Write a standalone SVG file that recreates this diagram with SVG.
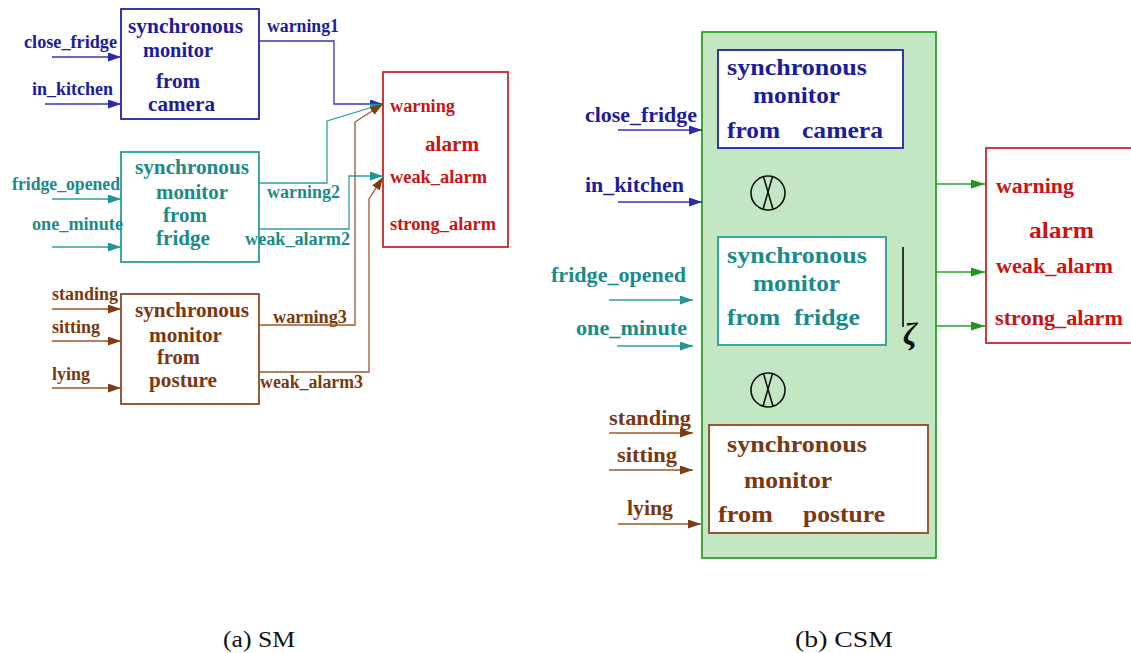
<svg xmlns="http://www.w3.org/2000/svg" width="1131" height="653" viewBox="0 0 1131 653">
  <style>
    text { font-family: "Liberation Serif", "Times New Roman", serif; font-weight: bold; }
    .cap { font-weight: normal; font-size: 23px; fill: #111; }
    .a-box { font-size: 21px; }
    .a-lbl { font-size: 18px; }
    .b-box { font-size: 24px; }
    .b-lbl { font-size: 21px; }
    .blue { fill: #1c1c9c; }
    .teal { fill: #1a8a8a; }
    .brown { fill: #7a3810; }
    .red { fill: #c81414; }
    .box { fill: #fff; stroke-width: 1.8; }
    .sb { stroke: #2323a6; }
    .st { stroke: #2a9c9c; }
    .sr { stroke: #8a4a22; }
    .sred { stroke: #d02424; }
    .wire { fill: none; stroke-width: 1.3; }
    .lb { stroke: #3434b4; }
    .lt { stroke: #2ea0a0; }
    .lr { stroke: #9a5a30; }
    .lg { stroke: #2c9e2c; }
    .xcirc { fill: none; stroke: #111; stroke-width: 1.6; }
  </style>
  <defs>
    <marker id="ah-blue" viewBox="0 0 13 9" refX="13" refY="4.5" markerWidth="13" markerHeight="9" orient="auto" markerUnits="userSpaceOnUse"><path d="M0,0 L13,4.5 L0,9 z" fill="#2a2aa8"/></marker>
    <marker id="ah-teal" viewBox="0 0 13 9" refX="13" refY="4.5" markerWidth="13" markerHeight="9" orient="auto" markerUnits="userSpaceOnUse"><path d="M0,0 L13,4.5 L0,9 z" fill="#229494"/></marker>
    <marker id="ah-brown" viewBox="0 0 13 9" refX="13" refY="4.5" markerWidth="13" markerHeight="9" orient="auto" markerUnits="userSpaceOnUse"><path d="M0,0 L13,4.5 L0,9 z" fill="#7e3c14"/></marker>
    <marker id="ah-green" viewBox="0 0 14 9" refX="14" refY="4.5" markerWidth="14" markerHeight="9" orient="auto" markerUnits="userSpaceOnUse"><path d="M0,0 L14,4.5 L0,9 z" fill="#1f961f"/></marker>
  </defs>

  <!-- ===== (a) SM ===== -->
  <g id="sm-camera">
    <rect class="box sb" x="121" y="9" width="138" height="110"/>
    <text class="a-box blue" x="128" y="33" textLength="115" lengthAdjust="spacingAndGlyphs">synchronous</text>
    <text class="a-box blue" x="143" y="57" textLength="70" lengthAdjust="spacingAndGlyphs">monitor</text>
    <text class="a-box blue" x="156" y="88" textLength="44" lengthAdjust="spacingAndGlyphs">from</text>
    <text class="a-box blue" x="148" y="111" textLength="67" lengthAdjust="spacingAndGlyphs">camera</text>
    <text class="a-lbl blue" x="24" y="48" textLength="93" lengthAdjust="spacingAndGlyphs">close_fridge</text>
    <text class="a-lbl blue" x="32" y="95" textLength="81" lengthAdjust="spacingAndGlyphs">in_kitchen</text>
    <text class="a-lbl blue" x="267" y="32" textLength="72" lengthAdjust="spacingAndGlyphs">warning1</text>
  </g>
  <g id="sm-fridge">
    <rect class="box st" x="121" y="152" width="138" height="110"/>
    <text class="a-box teal" x="135" y="174" textLength="114" lengthAdjust="spacingAndGlyphs">synchronous</text>
    <text class="a-box teal" x="156" y="199" textLength="72" lengthAdjust="spacingAndGlyphs">monitor</text>
    <text class="a-box teal" x="163" y="222" textLength="44" lengthAdjust="spacingAndGlyphs">from</text>
    <text class="a-box teal" x="156" y="245" textLength="54" lengthAdjust="spacingAndGlyphs">fridge</text>
    <text class="a-lbl teal" x="12" y="190" textLength="108" lengthAdjust="spacingAndGlyphs">fridge_opened</text>
    <text class="a-lbl teal" x="32" y="230" textLength="91" lengthAdjust="spacingAndGlyphs">one_minute</text>
    <text class="a-lbl teal" x="267" y="198" textLength="73" lengthAdjust="spacingAndGlyphs">warning2</text>
    <text class="a-lbl teal" x="245" y="245" textLength="105" lengthAdjust="spacingAndGlyphs">weak_alarm2</text>
  </g>
  <g id="sm-posture">
    <rect class="box sr" x="121" y="294" width="138" height="110"/>
    <text class="a-box brown" x="135" y="317" textLength="114" lengthAdjust="spacingAndGlyphs">synchronous</text>
    <text class="a-box brown" x="149" y="342" textLength="73" lengthAdjust="spacingAndGlyphs">monitor</text>
    <text class="a-box brown" x="157" y="364" textLength="43" lengthAdjust="spacingAndGlyphs">from</text>
    <text class="a-box brown" x="149" y="387" textLength="68" lengthAdjust="spacingAndGlyphs">posture</text>
    <text class="a-lbl brown" x="52" y="300" textLength="66" lengthAdjust="spacingAndGlyphs">standing</text>
    <text class="a-lbl brown" x="52" y="333" textLength="48" lengthAdjust="spacingAndGlyphs">sitting</text>
    <text class="a-lbl brown" x="52" y="380" textLength="38" lengthAdjust="spacingAndGlyphs">lying</text>
    <text class="a-lbl brown" x="273" y="323" textLength="74" lengthAdjust="spacingAndGlyphs">warning3</text>
    <text class="a-lbl brown" x="260" y="388" textLength="103" lengthAdjust="spacingAndGlyphs">weak_alarm3</text>
  </g>
  <g id="sm-alarm">
    <rect class="box sred" x="383" y="72" width="125" height="175"/>
    <text class="a-lbl red" x="390" y="112" textLength="65" lengthAdjust="spacingAndGlyphs">warning</text>
    <text class="a-box red" x="425" y="151" textLength="54" lengthAdjust="spacingAndGlyphs">alarm</text>
    <text class="a-lbl red" x="390" y="183" textLength="97" lengthAdjust="spacingAndGlyphs">weak_alarm</text>
    <text class="a-lbl red" x="390" y="230" textLength="106" lengthAdjust="spacingAndGlyphs">strong_alarm</text>
  </g>

  <!-- ===== (b) CSM ===== -->
  <g id="csm-composite">
    <rect x="702" y="32" width="234" height="526" fill="#c3e6c3" stroke="#2ca02c" stroke-width="1.8"/>
    <circle class="xcirc" cx="768" cy="193" r="17"/>
    <path class="xcirc" d="M763.5,176.6 L773,209.3 M772.5,176.6 L763,209.3"/>
    <circle class="xcirc" cx="768" cy="390" r="17"/>
    <path class="xcirc" d="M763.5,373.6 L773,406.3 M772.5,373.6 L763,406.3"/>
    <line x1="903" y1="247" x2="903" y2="327" stroke="#333" stroke-width="2"/>
    <text x="903" y="345" font-size="32" font-style="italic" font-weight="normal" fill="#111">ζ</text>
  </g>
  <g id="csm-camera">
    <rect class="box sb" x="718" y="50" width="185" height="98"/>
    <text class="b-box blue" x="727" y="75" textLength="140" lengthAdjust="spacingAndGlyphs">synchronous</text>
    <text class="b-box blue" x="753" y="103" textLength="87" lengthAdjust="spacingAndGlyphs">monitor</text>
    <text class="b-box blue" x="727" y="138" textLength="53" lengthAdjust="spacingAndGlyphs">from</text>
    <text class="b-box blue" x="802" y="138" textLength="81" lengthAdjust="spacingAndGlyphs">camera</text>
    <text class="b-lbl blue" x="585" y="122" textLength="112" lengthAdjust="spacingAndGlyphs">close_fridge</text>
    <text class="b-lbl blue" x="585" y="192" textLength="99" lengthAdjust="spacingAndGlyphs">in_kitchen</text>
  </g>
  <g id="csm-fridge">
    <rect class="box st" x="718" y="237" width="168" height="108"/>
    <text class="b-box teal" x="727" y="263" textLength="140" lengthAdjust="spacingAndGlyphs">synchronous</text>
    <text class="b-box teal" x="753" y="291" textLength="87" lengthAdjust="spacingAndGlyphs">monitor</text>
    <text class="b-box teal" x="727" y="325" textLength="53" lengthAdjust="spacingAndGlyphs">from</text>
    <text class="b-box teal" x="794" y="325" textLength="66" lengthAdjust="spacingAndGlyphs">fridge</text>
    <text class="b-lbl teal" x="551" y="282" textLength="135" lengthAdjust="spacingAndGlyphs">fridge_opened</text>
    <text class="b-lbl teal" x="576" y="335" textLength="111" lengthAdjust="spacingAndGlyphs">one_minute</text>
  </g>
  <g id="csm-posture">
    <rect class="box sr" x="709" y="425" width="219" height="108"/>
    <text class="b-box brown" x="727" y="452" textLength="140" lengthAdjust="spacingAndGlyphs">synchronous</text>
    <text class="b-box brown" x="744" y="488" textLength="88" lengthAdjust="spacingAndGlyphs">monitor</text>
    <text class="b-box brown" x="718" y="522" textLength="55" lengthAdjust="spacingAndGlyphs">from</text>
    <text class="b-box brown" x="803" y="522" textLength="82" lengthAdjust="spacingAndGlyphs">posture</text>
    <text class="b-lbl brown" x="609" y="425" textLength="82" lengthAdjust="spacingAndGlyphs">standing</text>
    <text class="b-lbl brown" x="617" y="462" textLength="60" lengthAdjust="spacingAndGlyphs">sitting</text>
    <text class="b-lbl brown" x="627" y="515" textLength="46" lengthAdjust="spacingAndGlyphs">lying</text>
  </g>
  <g id="csm-alarm">
    <rect class="box sred" x="986" y="148" width="152" height="195"/>
    <text class="b-lbl red" x="996" y="193" textLength="78" lengthAdjust="spacingAndGlyphs">warning</text>
    <text class="b-box red" x="1029" y="238" textLength="65" lengthAdjust="spacingAndGlyphs">alarm</text>
    <text class="b-lbl red" x="996" y="273" textLength="117" lengthAdjust="spacingAndGlyphs">weak_alarm</text>
    <text class="b-lbl red" x="995" y="325" textLength="128" lengthAdjust="spacingAndGlyphs">strong_alarm</text>
  </g>

  <!-- connectors -->
  <g id="connectors" class="wire">
    <!-- (a) inputs -->
    <path class="lb" d="M52,57 H121" marker-end="url(#ah-blue)"/>
    <path class="lb" d="M45,104 H121" marker-end="url(#ah-blue)"/>
    <path class="lt" d="M52,199 H121" marker-end="url(#ah-teal)"/>
    <path class="lt" d="M52,247 H121" marker-end="url(#ah-teal)"/>
    <path class="lr" d="M52,309 H121" marker-end="url(#ah-brown)"/>
    <path class="lr" d="M52,341 H121" marker-end="url(#ah-brown)"/>
    <path class="lr" d="M52,388 H121" marker-end="url(#ah-brown)"/>
    <!-- (a) outputs to alarm -->
    <path class="lb" d="M259,41 H334 V104 H383" marker-end="url(#ah-blue)"/>
    <path class="lt" d="M259,183 H327 V121 L383,104" marker-end="url(#ah-teal)"/>
    <path class="lt" d="M259,229 H349 V176 H383" marker-end="url(#ah-teal)"/>
    <path class="lr" d="M259,325 H355 V122 L383,104" marker-end="url(#ah-brown)"/>
    <path class="lr" d="M259,372 H369 V199 L383,177" marker-end="url(#ah-brown)"/>
    <!-- (b) inputs -->
    <path class="lb" d="M618,130 H702" marker-end="url(#ah-blue)"/>
    <path class="lb" d="M618,202 H702" marker-end="url(#ah-blue)"/>
    <path class="lt" d="M609,300 H693" marker-end="url(#ah-teal)"/>
    <path class="lt" d="M617,346 H693" marker-end="url(#ah-teal)"/>
    <path class="lr" d="M609,433 H693" marker-end="url(#ah-brown)"/>
    <path class="lr" d="M609,470 H693" marker-end="url(#ah-brown)"/>
    <path class="lr" d="M618,524 H701" marker-end="url(#ah-brown)"/>
    <!-- (b) outputs -->
    <path class="lg" d="M936,184 H985" marker-end="url(#ah-green)"/>
    <path class="lg" d="M936,272 H985" marker-end="url(#ah-green)"/>
    <path class="lg" d="M936,326 H985" marker-end="url(#ah-green)"/>
  </g>

  <!-- captions -->
  <text class="cap" x="223" y="647" textLength="72" lengthAdjust="spacingAndGlyphs">(a) SM</text>
  <text class="cap" x="795" y="647" textLength="98" lengthAdjust="spacingAndGlyphs">(b) CSM</text>
</svg>
